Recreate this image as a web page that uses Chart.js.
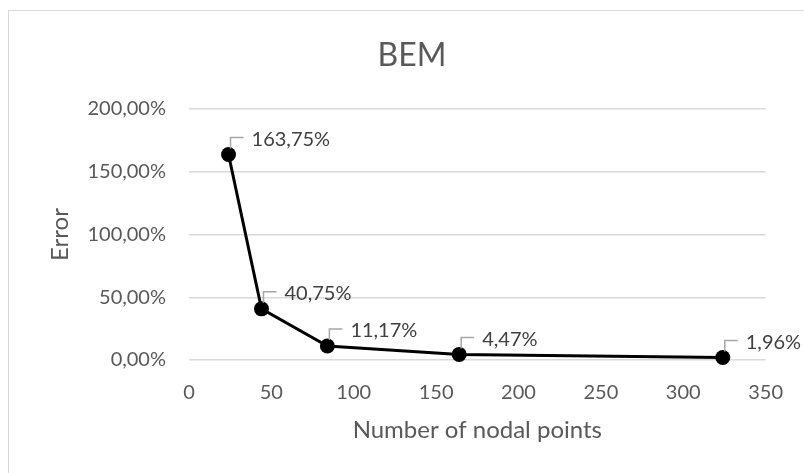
<!DOCTYPE html>
<html>
<head>
<meta charset="utf-8">
<script src="https://cdn.jsdelivr.net/npm/chart.js@4/dist/chart.umd.min.js"></script>
<style>
  html, body { margin: 0; padding: 0; background: #fff; overflow: hidden; }
  #wrap { position: relative; width: 804px; height: 473px; overflow: hidden; }
  #frame { position: absolute; left: 8px; top: 10px; width: 900px; height: 600px; border: 1px solid #d9d9d9; box-sizing: border-box; }
  #c { position: absolute; left: 0; top: 0; }
</style>
</head>
<body>
<div id="wrap">
  <div id="frame"></div>
  <canvas id="c" width="804" height="473"></canvas>
</div>
<script>
// ---- data ----
const nodalPoints = [24, 44, 84, 164, 324];
const errorPct = [163.75, 40.75, 11.17, 4.47, 1.96];
const chartTitle = 'BEM';
const xAxisTitle = 'Number of nodal points';
const yAxisTitle = 'Error';

const fmtPct = v => v.toFixed(2).replace('.', ',') + '%';

const FONT = 'Lato';
const GREY = '#595959';

const calloutLabels = {
  id: 'calloutLabels',
  afterDatasetsDraw(chart) {
    const ctx = chart.ctx;
    const meta = chart.getDatasetMeta(0);
    ctx.save();
    meta.data.forEach((pt, i) => {
      const px = pt.x, py = pt.y;
      ctx.strokeStyle = '#a6a6a6';
      ctx.lineWidth = 1.5;
      ctx.beginPath();
      ctx.moveTo(px + 2, py - 6);
      ctx.lineTo(px + 2, py - 17);
      ctx.lineTo(px + 15, py - 17);
      ctx.stroke();
      ctx.fillStyle = '#404040';
      ctx.font = '20px ' + FONT;
      ctx.textAlign = 'left';
      ctx.textBaseline = 'middle';
      ctx.fillText(fmtPct(errorPct[i]), px + 23, py - 15);
    });
    ctx.restore();
  }
};

new Chart(document.getElementById('c'), {
  type: 'line',
  data: {
    datasets: [{
      data: nodalPoints.map((x, i) => ({ x: x, y: errorPct[i] })),
      borderColor: '#000',
      borderWidth: 3,
      backgroundColor: '#000',
      pointBackgroundColor: '#000',
      pointBorderColor: '#000',
      pointRadius: 7.5,
      pointBorderWidth: 0,
      tension: 0,
      fill: false,
      clip: false
    }]
  },
  options: {
    responsive: false,
    animation: false,
    devicePixelRatio: 1,
    layout: { padding: { left: 20, right: 0, top: 0, bottom: 0 } },
    plugins: {
      legend: { display: false },
      tooltip: { enabled: false },
      title: {
        display: true,
        text: chartTitle,
        color: GREY,
        font: { family: FONT, size: 32, weight: 'normal' },
        padding: { top: 36, bottom: 34.6 }
      }
    },
    scales: {
      x: {
        type: 'linear',
        min: 0, max: 350,
        grid: { display: false, drawTicks: false },
        border: { display: false },
        ticks: { stepSize: 50, color: GREY, padding: 21, font: { family: FONT, size: 20 } },
        title: {
          display: true, text: xAxisTitle, color: GREY,
          font: { family: FONT, size: 24, weight: 'normal' },
          padding: { top: 0, bottom: 28.8 }
        },
        afterFit(scale) { scale.height = 113; }
      },
      y: {
        min: 0, max: 200,
        grid: { color: '#d9d9d9', lineWidth: 1.5, drawTicks: false },
        border: { display: false },
        ticks: { stepSize: 50, color: GREY, padding: 23, font: { family: FONT, size: 20 }, callback: v => fmtPct(v) },
        title: {
          display: true, text: yAxisTitle, color: GREY,
          font: { family: FONT, size: 24, weight: 'normal' },
          padding: { top: 25.4, bottom: 0 }
        },
        afterFit(scale) { scale.width = 169; }
      },
      yRight: {
        position: 'right',
        display: true,
        grid: { display: false, drawTicks: false },
        border: { display: false },
        ticks: { display: false },
        afterFit(scale) { scale.width = 36; }
      }
    }
  },
  plugins: [calloutLabels]
});
</script>
</body>
</html>
